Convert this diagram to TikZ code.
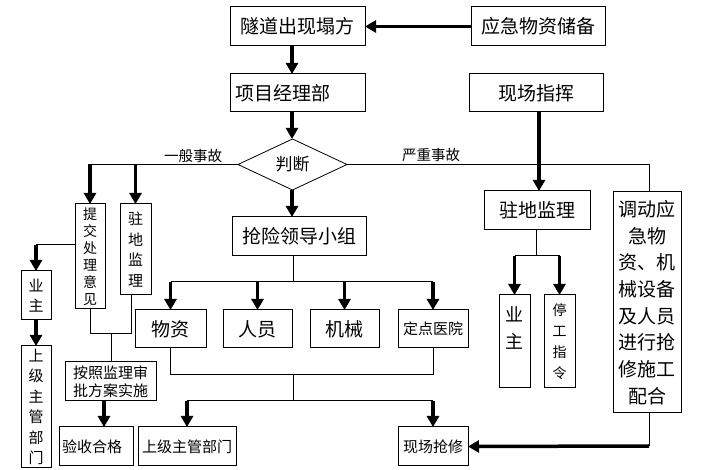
\documentclass[tikz,border=0pt]{standalone}
\usepackage{fontspec}
\newfontfamily\cjk{Noto Sans CJK SC}
\usetikzlibrary{arrows.meta,shapes.geometric}
\newcommand\szL{\cjk\fontsize{19}{26.7}\selectfont}
\newcommand\szLv{\cjk\fontsize{18}{27}\selectfont}
\newcommand\szJ{\cjk\fontsize{17}{20}\selectfont}
\newcommand\szM{\cjk\fontsize{15}{20.5}\selectfont}
\newcommand\szMv{\cjk\fontsize{15}{18}\selectfont}
\newcommand\szS{\cjk\fontsize{14}{17}\selectfont}
\newcommand\szT{\cjk\fontsize{14}{21}\selectfont}
\begin{document}
\begin{tikzpicture}[x=1pt,y=-1pt,
  box/.style={draw, line width=1pt, inner sep=0pt, outer sep=0pt, anchor=north west, align=center},
  thinline/.style={line width=1pt},
  arr/.style={line width=3.5pt, -{Triangle[length=11pt,width=12pt]}},
  lbl/.style={inner sep=0pt, font=\cjk\fontsize{14.5}{16}\selectfont}]
\fill[white] (0,0) rectangle (705,470);
\useasboundingbox (0,0) rectangle (705,470);
% top row
\node[box, minimum width=135pt, minimum height=39pt, font=\szL] (sui) at (230,7) {隧道出现塌方};
\node[box, minimum width=134pt, minimum height=39pt, font=\szL] (yj) at (471,7) {应急物资储备};
\node[box, minimum height=38pt, text width=125pt, inner xsep=5pt, align=left, font=\szL] (xm) at (230,74) {项目经理部};
\node[box, minimum width=134pt, minimum height=38pt, font=\szL] (xc) at (469,74) {现场指挥};
\node[draw, diamond, aspect=2.14, minimum width=109pt, minimum height=51pt, inner sep=0pt, outer sep=0pt, line width=0.8pt, font=\szJ] (pd) at (292.5,164.5) {判断};
% left branch
\node[box, minimum width=30pt, minimum height=105pt, font=\szS] (ti) at (75,204) {提\\交\\处\\理\\意\\见};
\node[box, minimum width=31pt, minimum height=91pt, font=\szM] (zd1) at (120,204) {驻\\地\\监\\理};
\node[box, minimum width=30pt, minimum height=49pt, font=\szM] (yz1) at (21,271) {业\\主};
\node[box, minimum width=30pt, minimum height=122pt, font=\szM] (sj1) at (21,346) {上\\级\\主\\管\\部\\门};
\node[box, minimum width=91pt, minimum height=39pt, font=\szMv] (az) at (65,362) {按照监理审\\批方案实施};
\node[box, minimum height=39pt, text width=68pt, inner xsep=3pt, align=left, font=\szM] (ys) at (59,427) {验收合格};
% middle
\node[box, minimum width=134pt, minimum height=39pt, font=\szL] (qx) at (232,217) {抢险领导小组};
\node[box, minimum width=71pt, minimum height=38pt, font=\szL] (wz) at (135,310) {物资};
\node[box, minimum width=69pt, minimum height=38pt, font=\szL] (ry) at (223,310) {人员};
\node[box, minimum width=69pt, minimum height=38pt, font=\szL] (jx) at (310,310) {机械};
\node[box, minimum width=70pt, minimum height=38pt, font=\szM] (dy) at (398,310) {定点医院};
\node[box, minimum width=98pt, minimum height=39pt, font=\szM] (sj2) at (138,427) {上级主管部门};
\node[box, minimum width=70pt, minimum height=39pt, font=\szM] (xcq) at (398,427) {现场抢修};
% right
\node[box, minimum width=106pt, minimum height=39pt, font=\szL] (zd2) at (484,191) {驻地监理};
\node[box, minimum width=31pt, minimum height=93pt] (yz2) at (499,295) {};
\node[inner sep=0pt, anchor=north, align=center, font=\szLv] (yz2t) at ([yshift=-11pt]yz2.north) {业\\主};
\node[box, minimum width=31pt, minimum height=93pt, font=\szT] (tg) at (544,295) {停\\工\\指\\令};
\node[box, minimum width=68pt, minimum height=221pt, font=\szL] (dd) at (613,192) {调动应\\急物\\资、机\\械设备\\及人员\\进行抢\\修施工\\配合};
% labels
\node[lbl] (lb1) at (193,155.5) {一般事故};
\node[lbl] (lb2) at (431,155.5) {严重事故};
% coordinates
\coordinate (cx) at (292,0);
\coordinate (l1) at (36,245);
\coordinate (jL) at (111,334);
\coordinate (a1) at (104,0);
\coordinate (q1) at (293,282);
\coordinate (m1) at (293,375);
\coordinate (m2) at (293,401);
\coordinate (r1) at (536,256);
\coordinate (d1) at (649,446);
\coordinate (xp) at (539,0);
% connectors
\draw[arr] (yj.west) -- (sui.east);
\draw[arr] (sui.south -| cx) -- (xm.north -| cx);
\draw[arr] (xm.south -| cx) -- (pd.north -| cx);
\draw[arr] (pd.south -| cx) -- (qx.north -| cx);
\draw[thinline] (pd.west) -- (pd.west -| ti.north);
\draw[arr] (pd.west -| ti.north) -- (ti.north);
\draw[arr] (pd.west -| zd1.north) -- (zd1.north);
\draw[thinline] (pd.east) -- (pd.east -| d1) -- (dd.north -| d1);
\draw[arr] (xc.south -| xp) -- (zd2.north -| xp);
\draw[thinline] (zd2.south -| r1) -- (r1);
\draw[thinline] (yz2.north |- r1) -- (tg.north |- r1);
\draw[arr] (yz2.north |- r1) -- (yz2.north);
\draw[arr] (tg.north |- r1) -- (tg.north);
\draw[thinline] (qx.south -| q1) -- (q1);
\draw[thinline] (wz.north |- q1) -- (dy.north |- q1);
\draw[arr] (wz.north |- q1) -- (wz.north);
\draw[arr] (ry.north |- q1) -- (ry.north);
\draw[arr] (jx.north |- q1) -- (jx.north);
\draw[arr] (dy.north |- q1) -- (dy.north);
\draw[thinline] (wz.south) -- (wz.south |- m1) -- (dy.south |- m1) -- (dy.south);
\draw[thinline] (m1) -- (m2);
\draw[thinline] (sj2.north |- m2) -- (xcq.north |- m2);
\draw[arr] (sj2.north |- m2) -- (sj2.north);
\draw[arr] (xcq.north |- m2) -- (xcq.north);
\draw[thinline] (dd.south -| d1) -- (d1);
\draw[arr] (d1) -- (xcq.east);
\draw[thinline] (ti.west |- l1) -- (l1);
\draw[arr] (l1) -- (yz1.north);
\draw[arr] (yz1.south) -- (sj1.north);
\draw[thinline] (ti.south) |- (jL);
\draw[thinline] ([xshift=-4.5pt]zd1.south) |- (jL);
\draw[thinline] (jL) -- (az.north -| jL);
\draw[arr] (az.south -| a1) -- (ys.north -| a1);
\end{tikzpicture}
\end{document}
